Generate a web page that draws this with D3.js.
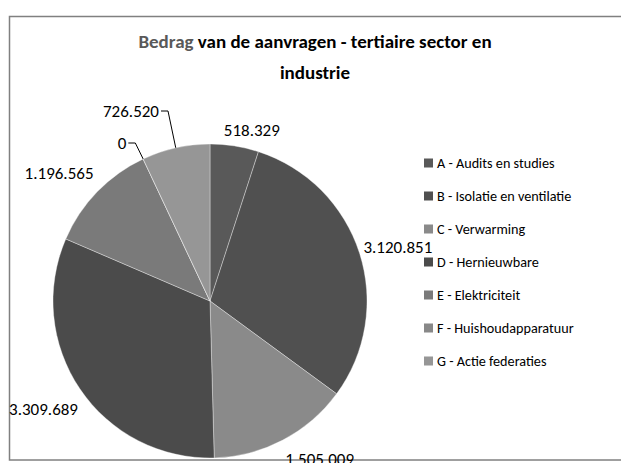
<!DOCTYPE html>
<html>
<head>
<meta charset="utf-8">
<script src="https://cdn.jsdelivr.net/npm/d3@7"></script>
<style>
  body { margin: 0; background: #fff; }
  svg text { font-family: Carlito, Calibri, Lato, "Open Sans", sans-serif; }
</style>
</head>
<body>
<div id="chart"></div>
<script>
// data
const categories = [
  "A - Audits en studies",
  "B - Isolatie en ventilatie",
  "C - Verwarming",
  "D - Hernieuwbare",
  "E - Elektriciteit",
  "F - Huishoudapparatuur",
  "G - Actie federaties"
];
const values = [518329, 3120851, 1505009, 3309689, 1196565, 0, 726520];
const valueLabels = ["518.329", "3.120.851", "1.505.009", "3.309.689", "1.196.565", "0", "726.520"];
const colors = ["#595959", "#505050", "#8a8a8a", "#4b4b4b", "#7a7a7a", "#888888", "#969696"];

var width = 621, height = 463;
var cx = 210, cy = 301, radius = 157;

var svg = d3.select("#chart")
    .append("svg")
    .attr("width", width)
    .attr("height", height);

// chart frame (right edge runs off the picture)
svg.append("rect")
    .attr("x", 9.5).attr("y", 16.5)
    .attr("width", 640).attr("height", 443.5)
    .attr("fill", "none")
    .attr("stroke", "#808080")
    .attr("stroke-width", 1.5);

// title
var title = svg.append("text")
    .attr("text-anchor", "middle")
    .attr("font-size", 19)
    .attr("font-weight", "bold");
title.append("tspan").attr("x", 315).attr("y", 48)
    .attr("fill", "#595959").text("Bedrag");
title.append("tspan").attr("fill", "#000").text(" van de aanvragen - tertiaire sector en");
title.append("tspan").attr("x", 315).attr("y", 79)
    .attr("fill", "#000").text("industrie");

// pie, starting at 12 o'clock, clockwise, unsorted
var pie = d3.pie().sort(null).value(d => d)(values);
var arc = d3.arc().innerRadius(0).outerRadius(radius);

var g = svg.append("g").attr("transform", "translate(" + cx + "," + cy + ")");

g.selectAll("path")
    .data(pie)
    .enter()
    .append("path")
    .attr("d", arc)
    .attr("fill", (d, i) => colors[i])
    .attr("stroke", "rgba(255,255,255,0.45)")
    .attr("stroke-width", 0.8);

// data labels: outside end, then nudged the way Excel placed them
var nudge = [[12, -1], [0, -1], [18, 6], [-3, 12], [-9, -8], [0, 0], [0, 0]];
var moved = { 5: [122, 143], 6: [131, 111] };   // labels dragged away, with leader lines

var labels = g.selectAll("text.lbl")
    .data(pie)
    .enter()
    .append("text")
    .attr("class", "lbl")
    .attr("font-size", 17)
    .attr("fill", "#000")
    .attr("text-anchor", "middle")
    .attr("dominant-baseline", "central")
    .text((d, i) => valueLabels[i]);

labels.attr("transform", function (d, i) {
    if (moved[i]) return "translate(" + (moved[i][0] - cx) + "," + (moved[i][1] - cy) + ")";
    var a = (d.startAngle + d.endAngle) / 2;
    var w = this.getComputedTextLength(), h = 18;
    var px = Math.sin(a) * (radius + 6), py = -Math.cos(a) * (radius + 6);
    var x = px + Math.sin(a) * w / 2 + nudge[i][0];
    var y = py - Math.cos(a) * h / 2 + nudge[i][1];
    return "translate(" + x + "," + y + ")";
});

// leader lines for the dragged labels
labels.each(function (d, i) {
    if (!moved[i]) return;
    var a = d.endAngle == d.startAngle ? d.startAngle : (d.startAngle + d.endAngle) / 2;
    var ex = Math.sin(a) * radius, ey = -Math.cos(a) * radius;
    var sx = moved[i][0] - cx + this.getComputedTextLength() / 2 + 2, sy = moved[i][1] - cy;
    g.append("path")
        .attr("d", "M" + sx + "," + sy + "H" + (sx + 7) + "L" + ex + "," + ey)
        .attr("fill", "none")
        .attr("stroke", "#000")
        .attr("stroke-width", 1);
});

// legend
var legend = svg.append("g").attr("transform", "translate(424,163)");
var item = legend.selectAll("g")
    .data(categories)
    .enter()
    .append("g")
    .attr("transform", (d, i) => "translate(0," + (i * 33) + ")");
item.append("rect")
    .attr("x", 0).attr("y", -4.5)
    .attr("width", 9).attr("height", 9)
    .attr("fill", (d, i) => colors[i]);
item.append("text")
    .attr("x", 13).attr("y", 0)
    .attr("dominant-baseline", "central")
    .attr("font-size", 14.2)
    .attr("fill", "#000")
    .text(d => d);
</script>
</body>
</html>
